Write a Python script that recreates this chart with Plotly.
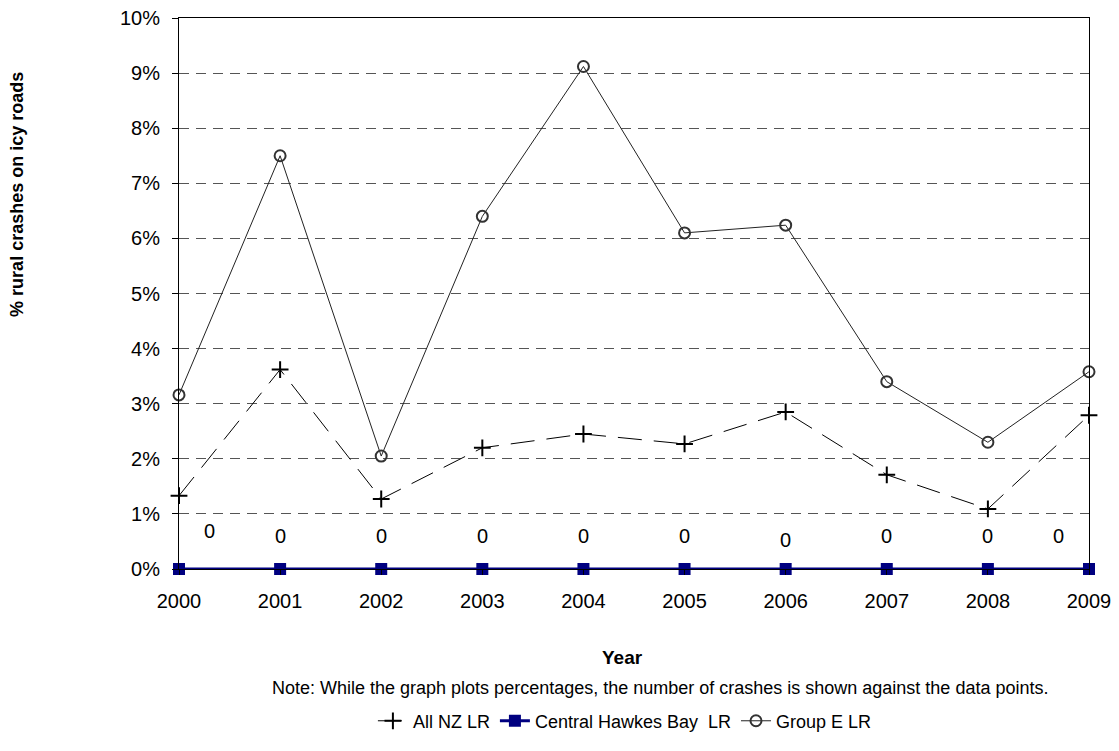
import plotly.graph_objects as go

years = [2000, 2001, 2002, 2003, 2004, 2005, 2006, 2007, 2008, 2009]
all_nz = [1.33, 3.62, 1.27, 2.20, 2.45, 2.27, 2.85, 1.71, 1.09, 2.79]
chb = [0, 0, 0, 0, 0, 0, 0, 0, 0, 0]
group_e = [3.16, 7.50, 2.05, 6.40, 9.12, 6.10, 6.24, 3.40, 2.30, 3.58]
chb_counts = [0, 0, 0, 0, 0, 0, 0, 0, 0, 0]
y_ticks = [0, 1, 2, 3, 4, 5, 6, 7, 8, 9, 10]

FONT = "Arial, Liberation Sans, sans-serif"

fig = go.Figure()

fig.add_trace(go.Scatter(
    x=years, y=[v / 100 for v in all_nz], name="All NZ LR",
    mode="lines+markers",
    line=dict(color="black", width=1, dash="24px,12px"),
    marker=dict(symbol="cross-thin", size=12, line=dict(color="black", width=2)),
    cliponaxis=False,
))
fig.add_trace(go.Scatter(
    x=years, y=[v / 100 for v in chb], name="Central Hawkes Bay  LR",
    mode="lines+markers",
    line=dict(color="#000080", width=3),
    marker=dict(symbol="square", size=12, color="#000080"),
    cliponaxis=False,
))
fig.add_trace(go.Scatter(
    x=years, y=[v / 100 for v in group_e], name="Group E LR",
    mode="lines+markers",
    line=dict(color="#222222", width=1),
    marker=dict(symbol="circle-open", size=11, color="#333333", line=dict(width=2)),
    cliponaxis=False,
))

# crash counts shown against the Central Hawkes Bay points
for i, (yr, v, c) in enumerate(zip(years, chb, chb_counts)):
    xs, ys = 0, 33
    if i == 0:
        xs, ys = 30, 38
    elif i == len(years) - 1:
        xs = -31
    elif yr == 2006:
        ys = 29
    fig.add_annotation(x=yr, y=v / 100, text=str(c), showarrow=False,
                       xshift=xs, yshift=ys, font=dict(size=20, color="black"))

fig.add_annotation(x=-0.178, y=0.679, xref="paper", yref="paper",
                   xanchor="center", yanchor="middle",
                   text="<b>% rural crashes on icy roads</b>", textangle=-90,
                   showarrow=False, font=dict(size=18, color="black"))
fig.add_annotation(x=0.487, y=-0.1615, xref="paper", yref="paper",
                   xanchor="center", yanchor="middle",
                   text="<b>Year</b>", showarrow=False,
                   font=dict(size=19, color="black"))
fig.add_annotation(x=0.529, y=-0.216, xref="paper", yref="paper",
                   xanchor="center", yanchor="middle",
                   text="Note: While the graph plots percentages, the number of crashes is shown against the data points.",
                   showarrow=False, font=dict(size=18, color="black"))

fig.update_layout(
    width=1111, height=743,
    margin=dict(l=171, r=30, t=10, b=182, autoexpand=False),
    plot_bgcolor="white", paper_bgcolor="white",
    font=dict(family=FONT, color="black", size=20),
    legend=dict(orientation="h", x=0.49, xanchor="center", y=-0.276, yanchor="middle",
                font=dict(size=18)),
    xaxis=dict(
        range=[2000, 2009], tickvals=years, ticktext=[str(y) for y in years],
        showline=True, linecolor="black", linewidth=1, mirror=True,
        ticks="outside", ticklen=5, tickcolor="black", showgrid=False, zeroline=False,
        ticklabelstandoff=9, ticklabeloverflow="allow",
    ),
    yaxis=dict(
        range=[0, 0.10], tickvals=[t / 100 for t in y_ticks],
        ticktext=[f"{t}%" for t in y_ticks],
        showline=True, linecolor="black", linewidth=1, mirror=True,
        ticks="outside", ticklen=6, tickcolor="black",
        showgrid=True, gridcolor="#555555", gridwidth=1, griddash="10px,7px",
        zeroline=False, ticklabelstandoff=8, ticklabeloverflow="allow",
    ),
)

fig.write_html("out.html")
